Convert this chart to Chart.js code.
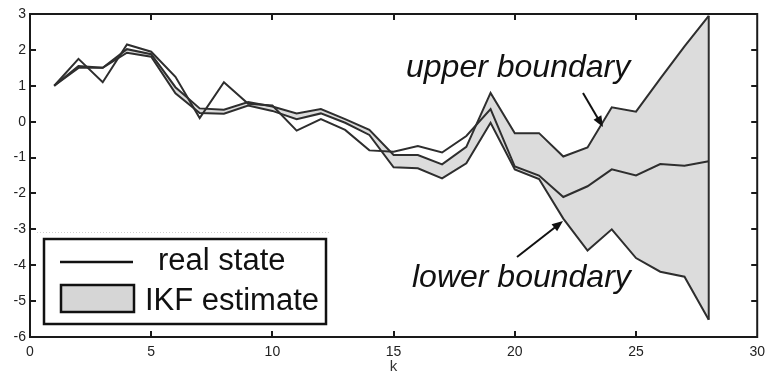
<!DOCTYPE html>
<html>
<head>
<meta charset="utf-8">
<script src="https://cdn.jsdelivr.net/npm/chart.js@4.4.0/dist/chart.umd.min.js"></script>
<style>
  html, body { margin: 0; padding: 0; background: #fff; }
</style>
</head>
<body>
<canvas id="myChart" width="772" height="376"></canvas>
<script>
// time steps k
var steps = [1, 2, 3, 4, 5, 6, 7, 8, 9, 10, 11, 12, 13, 14, 15, 16, 17, 18, 19, 20, 21, 22, 23, 24, 25, 26, 27, 28];

// real state
var realState = [1.0, 1.75, 1.1, 2.15, 1.95, 1.25, 0.1, 1.1, 0.5, 0.45, -0.25, 0.07, -0.23, -0.8,
                 -0.84, -0.68, -0.86, -0.4, 0.35, -1.25, -1.5, -2.1, -1.8, -1.33, -1.5, -1.18, -1.23, -1.1];

// IKF estimate interval
var upperBound = [1.0, 1.55, 1.5, 2.02, 1.88, 0.96, 0.37, 0.33, 0.55, 0.42, 0.23, 0.35, 0.07, -0.23,
                  -0.93, -0.93, -1.19, -0.7, 0.8, -0.32, -0.32, -0.97, -0.72, 0.4, 0.28, 1.2, 2.1, 2.95];
var lowerBound = [1.0, 1.5, 1.5, 1.92, 1.81, 0.79, 0.24, 0.22, 0.45, 0.3, 0.07, 0.23, -0.03, -0.37,
                  -1.27, -1.3, -1.58, -1.16, -0.03, -1.33, -1.6, -2.7, -3.59, -3.0, -3.8, -4.18, -4.32, -5.52];

var xTicks = [0, 5, 10, 15, 20, 25, 30];
var yTicks = [-6, -5, -4, -3, -2, -1, 0, 1, 2, 3];

function pts(arr) {
    return arr.map(function (v, i) { return { x: steps[i], y: v }; });
}

var last = steps.length - 1;
var lineColor = '#2e2e2e';
var bandColor = '#dcdcdc';
var fontFamily = '"Liberation Sans", Arial, sans-serif';

function arrow(c, x1, y1, x2, y2) {
    var ang = Math.atan2(y2 - y1, x2 - x1), len = 11, w = 4.5;
    c.beginPath();
    c.moveTo(x1, y1);
    c.lineTo(x2 - Math.cos(ang) * len * 0.8, y2 - Math.sin(ang) * len * 0.8);
    c.stroke();
    c.beginPath();
    c.moveTo(x2, y2);
    c.lineTo(x2 - Math.cos(ang) * len - Math.sin(ang) * w, y2 - Math.sin(ang) * len + Math.cos(ang) * w);
    c.lineTo(x2 - Math.cos(ang) * len + Math.sin(ang) * w, y2 - Math.sin(ang) * len - Math.cos(ang) * w);
    c.closePath();
    c.fill();
}

// box, inward ticks, legend and boundary labels
var decorations = {
    id: 'decorations',
    afterDatasetsDraw: function (chart) {
        var c = chart.ctx, a = chart.chartArea, xs = chart.scales.x, ys = chart.scales.y;
        c.save();
        c.strokeStyle = '#1a1a1a';
        c.lineWidth = 2;
        c.beginPath();
        xTicks.slice(1, -1).forEach(function (v) {
            var px = Math.round(xs.getPixelForValue(v));
            c.moveTo(px, a.bottom); c.lineTo(px, a.bottom - 6);
            c.moveTo(px, a.top); c.lineTo(px, a.top + 6);
        });
        yTicks.slice(1, -1).forEach(function (v) {
            var py = Math.round(ys.getPixelForValue(v));
            c.moveTo(a.left, py); c.lineTo(a.left + 6, py);
            c.moveTo(a.right, py); c.lineTo(a.right - 6, py);
        });
        c.stroke();
        c.strokeRect(a.left, a.top, a.width, a.height);
        c.restore();
    },
    afterDraw: function (chart) {
        var c = chart.ctx;
        c.save();

        // faint dotted line above the legend
        c.strokeStyle = '#cfcfcf';
        c.lineWidth = 1;
        c.setLineDash([1, 2]);
        c.beginPath();
        c.moveTo(37, 232.5); c.lineTo(330, 232.5);
        c.stroke();
        c.setLineDash([]);

        // legend
        c.fillStyle = '#fff';
        c.fillRect(44, 239, 282, 85);
        c.strokeStyle = '#111';
        c.lineWidth = 2.5;
        c.strokeRect(44, 239, 282, 85);
        c.beginPath();
        c.moveTo(60, 262); c.lineTo(133, 262);
        c.stroke();
        c.fillStyle = '#d6d6d6';
        c.fillRect(61, 285, 73, 27);
        c.strokeRect(61, 285, 73, 27);
        c.fillStyle = '#111';
        c.font = '31px ' + fontFamily;
        c.textBaseline = 'alphabetic';
        c.fillText('real state', 158, 270);
        c.fillText('IKF estimate', 145, 310);

        // boundary labels
        c.font = 'italic 32px ' + fontFamily;
        c.fillText('upper boundary', 406, 77);
        c.fillText('lower boundary', 412, 287);
        c.strokeStyle = '#111';
        c.lineWidth = 2;
        arrow(c, 583, 93, 603, 127);
        arrow(c, 517, 257, 563, 221);
        c.restore();
    }
};

var ctx = document.getElementById('myChart').getContext('2d');
var chart = new Chart(ctx, {
    type: 'line',
    data: {
        datasets: [{
            label: 'upper boundary',
            data: pts(upperBound),
            borderColor: lineColor,
            borderWidth: 2,
            backgroundColor: bandColor,
            fill: 1,
            pointRadius: 0,
            tension: 0
        }, {
            label: 'lower boundary',
            data: pts(lowerBound),
            borderColor: lineColor,
            borderWidth: 2,
            fill: false,
            pointRadius: 0,
            tension: 0
        }, {
            // closing edge of the band at the last step
            label: 'band edge',
            data: [{ x: steps[last], y: upperBound[last] }, { x: steps[last], y: lowerBound[last] }],
            borderColor: lineColor,
            borderWidth: 2,
            fill: false,
            pointRadius: 0
        }, {
            label: 'real state',
            data: pts(realState),
            borderColor: lineColor,
            borderWidth: 2,
            fill: false,
            pointRadius: 0,
            tension: 0
        }]
    },
    options: {
        responsive: false,
        animation: false,
        devicePixelRatio: 1,
        layout: { padding: { top: 14, right: 9, left: 0, bottom: 0 } },
        plugins: {
            legend: { display: false },
            tooltip: { enabled: false },
            filler: { propagate: false, drawTime: 'beforeDatasetsDraw' }
        },
        scales: {
            x: {
                type: 'linear',
                min: 0,
                max: 30,
                afterFit: function (s) { s.height = 39; },
                afterBuildTicks: function (s) { s.ticks = xTicks.map(function (v) { return { value: v }; }); },
                grid: { display: false, drawTicks: false },
                border: { display: false },
                ticks: { padding: 7, color: '#222', font: { family: fontFamily, size: 14 }, maxRotation: 0 },
                title: { display: true, text: 'k', color: '#333', font: { family: fontFamily, size: 15 }, padding: { top: 0, bottom: 0 } }
            },
            y: {
                min: -6,
                max: 3,
                afterFit: function (s) { s.width = 30; },
                afterBuildTicks: function (s) { s.ticks = yTicks.map(function (v) { return { value: v }; }); },
                grid: { display: false, drawTicks: false },
                border: { display: false },
                ticks: { padding: 4, color: '#222', font: { family: fontFamily, size: 14 } }
            }
        }
    },
    plugins: [decorations]
});
</script>
</body>
</html>
